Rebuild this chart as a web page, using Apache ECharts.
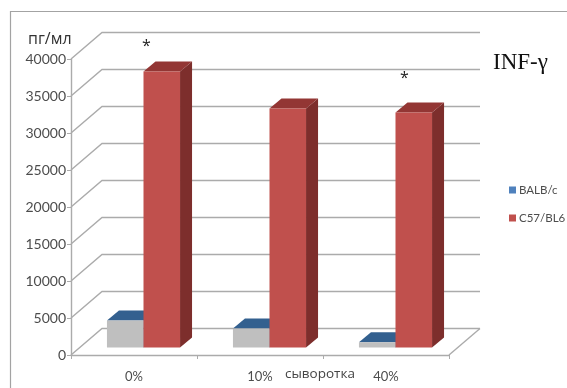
<!DOCTYPE html>
<html>
<head>
<meta charset="utf-8">
<style>html,body{margin:0;padding:0;background:#fff}#chart{width:567px;height:388px}</style>
<script src="https://cdn.jsdelivr.net/npm/echarts@6/dist/echarts.min.js"></script>
</head>
<body>
<div id="chart"></div>
<script>
// INF-γ concentration by serum percentage for two mouse strains
const categories = ['0%', '10%', '40%'];
const balbValues = [3650, 2570, 700];
const c57Values = [37300, 32300, 31760];
const yTicks = [0, 5000, 10000, 15000, 20000, 25000, 30000, 35000, 40000];

// Pseudo-3D projection: wall offset and bar depth, in pixels
const wallDepth = { x: 31, y: -26.5 };
const barInset = { x: 9.5, y: -7.6 };
const barDepth = { x: 12, y: -10 };
const barShare = 0.29;

const labelColor = '#4d4d4d';
const gridColor = '#ababab';

function cuboid(seriesSlot, faces) {
  return function (params, api) {
    const idx = api.value(0);
    const top = api.coord([idx, api.value(1)]);
    const base = api.coord([idx, 0]);
    const w = api.size([1, 0])[0] * barShare;
    const x0 = top[0] + barInset.x + seriesSlot * w;
    const x1 = x0 + w;
    const yT = top[1] + barInset.y;
    const yB = base[1] + barInset.y;
    const dx = barDepth.x, dy = barDepth.y;
    const poly = (points, fill) => ({
      type: 'polygon', shape: { points }, style: { fill, stroke: null }
    });
    return {
      type: 'group',
      children: [
        poly([[x1, yT], [x1 + dx, yT + dy], [x1 + dx, yB + dy], [x1, yB]], faces.side),
        poly([[x0, yT], [x1, yT], [x1 + dx, yT + dy], [x0 + dx, yT + dy]], faces.top),
        poly([[x0, yT], [x1, yT], [x1, yB], [x0, yB]], faces.front)
      ]
    };
  };
}

// Back wall gridlines with their diagonals onto the left wall
function wallLine(params, api) {
  const cs = params.coordSys;
  const y = api.coord([0, api.value(0)])[1];
  const x0 = cs.x, x1 = cs.x + cs.width;
  const lines = [[[x0, y], [x0 + wallDepth.x, y + wallDepth.y], [x1 + wallDepth.x, y + wallDepth.y]]];
  if (api.value(0) === 0) {
    lines.push([[x1, y], [x1 + wallDepth.x, y + wallDepth.y]]);
  }
  return {
    type: 'group',
    children: lines.map(points => ({
      type: 'polyline', shape: { points },
      style: { stroke: gridColor, lineWidth: 1.4, fill: null }
    }))
  };
}

const chart = echarts.init(document.getElementById('chart'), null, { renderer: 'canvas' });
chart.setOption({
  animation: false,
  backgroundColor: '#fff',
  grid: { left: 71, right: 118, top: 59, bottom: 33, containLabel: false },
  xAxis: {
    type: 'category',
    data: categories,
    axisLine: { lineStyle: { color: gridColor, width: 1.4 } },
    axisTick: { show: true, length: 4, lineStyle: { color: gridColor } },
    axisLabel: { color: labelColor, fontFamily: 'Lato', fontSize: 13, margin: 15 }
  },
  yAxis: {
    type: 'value',
    min: 0,
    max: 40000,
    interval: 5000,
    splitLine: { show: false },
    axisLine: { show: true, lineStyle: { color: gridColor, width: 1.4 } },
    axisTick: { show: true, length: 4, lineStyle: { color: gridColor } },
    axisLabel: { color: labelColor, fontFamily: 'Lato', fontSize: 14, margin: 5, formatter: v => String(v) }
  },
  legend: {
    orient: 'vertical',
    left: 509,
    top: 184,
    itemWidth: 7,
    itemHeight: 7,
    itemGap: 16,
    padding: 0,
    icon: 'rect',
    selectedMode: false,
    textStyle: { color: labelColor, fontFamily: 'Lato', fontSize: 11.5, padding: [0, 0, 0, -2] },
    data: ['BALB/c', 'C57/BL6']
  },
  series: [
    {
      type: 'custom',
      silent: true,
      z: 1,
      clip: false,
      renderItem: wallLine,
      data: yTicks.map(v => [v]),
      encode: { y: 0 }
    },
    {
      name: 'BALB/c',
      type: 'custom',
      z: 2,
      clip: false,
      itemStyle: { color: '#4f81bd' },
      renderItem: cuboid(-1, { front: '#bfbfbf', top: '#33608f', side: '#2b507c' }),
      data: balbValues.map((v, i) => [i, v]),
      encode: { x: 0, y: 1 }
    },
    {
      name: 'C57/BL6',
      type: 'custom',
      z: 3,
      clip: false,
      itemStyle: { color: '#c0504d' },
      renderItem: cuboid(0, { front: '#c0504d', top: '#933634', side: '#7d2e2c' }),
      data: c57Values.map((v, i) => [i, v]),
      encode: { x: 0, y: 1 }
    }
  ],
  graphic: [
    { type: 'polyline', silent: true, shape: { points: [[10.5, 388], [10.5, 11.5], [567, 11.5]] },
      style: { stroke: '#a3a3a3', lineWidth: 1.2, fill: null } },
    // The 35000 back gridline stops a little short of the wall edge
    { type: 'rect', silent: true, shape: { x: 475, y: 67, width: 9, height: 6 }, style: { fill: '#fff' } },
    { type: 'text', left: 28, top: 31, style: { text: 'пг/мл', fill: '#333', font: '16px "Open Sans"' } },
    { type: 'text', left: 142, top: 38, style: { text: '*', fill: '#222', font: '16px "Open Sans"' } },
    { type: 'text', left: 400, top: 70, style: { text: '*', fill: '#222', font: '16px "Open Sans"' } },
    { type: 'text', left: 493, top: 51, style: { text: 'INF-γ', fill: '#111', font: '23px "Liberation Serif"' } },
    { type: 'text', left: 285, top: 367, style: { text: 'сыворотка', fill: '#444', font: '13.5px "Open Sans"' } }
  ]
});
</script>
</body>
</html>
